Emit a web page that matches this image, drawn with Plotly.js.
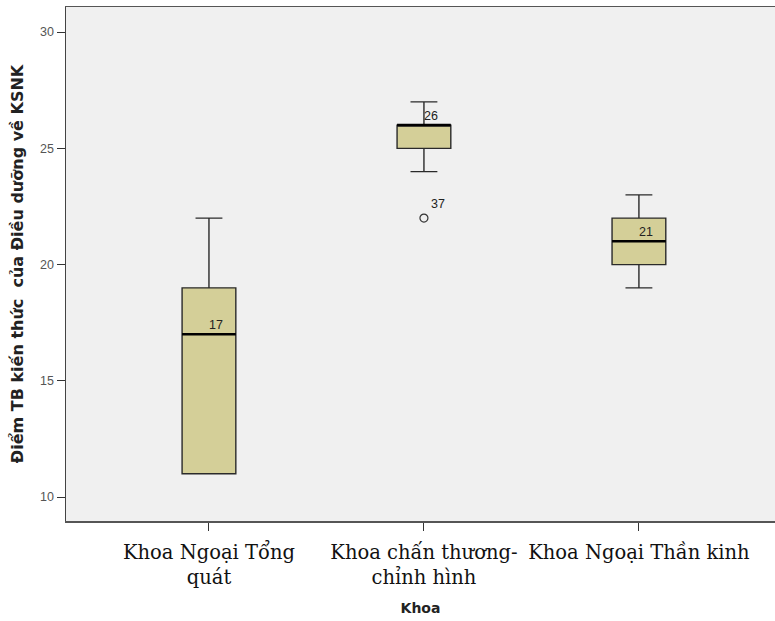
<!DOCTYPE html>
<html>
<head>
<meta charset="utf-8">
<script src="https://cdn.plot.ly/plotly-3.0.1.min.js"></script>
<style>
  html, body { margin: 0; padding: 0; background: #ffffff; }
  #chart { width: 775px; height: 621px; }
</style>
</head>
<body>
<div id="chart"></div>
<script>
// Departments (x categories) and their tick labels
const categories = ["Khoa Ngoại Tổng quát", "Khoa chấn thương-chỉnh hình", "Khoa Ngoại Thần kinh"];
const tickLabels = ["Khoa Ngoại Tổng<br>quát", "Khoa chấn thương-<br>chỉnh hình", "Khoa Ngoại Thần kinh"];

// Box summary statistics per department
const lowerWhisker = [11, 24, 19];
const q1Values     = [11, 25, 20];
const medianValues = [17, 26, 21];
const q3Values     = [19, 26, 22];
const upperWhisker = [22, 27, 23];

// Outlier case
const outlierCategory = ["Khoa chấn thương-chỉnh hình"];
const outlierValue = [22];
const outlierCase = ["37"];

const boxWidth = 0.25;
const boxFill = "#d4cf98";

const traces = [
  {
    type: "box",
    x: categories,
    q1: q1Values,
    median: medianValues,
    q3: q3Values,
    lowerfence: lowerWhisker,
    upperfence: upperWhisker,
    width: boxWidth,
    whiskerwidth: 0.5,
    fillcolor: boxFill,
    line: { color: "#2a2a2a", width: 1.4 },
    boxpoints: false,
    hoverinfo: "skip",
    showlegend: false
  },
  {
    type: "scatter",
    mode: "markers",
    x: outlierCategory,
    y: outlierValue,
    marker: { symbol: "circle-open", size: 8, color: "#333333", line: { width: 1.2 } },
    hoverinfo: "skip",
    showlegend: false
  }
];

// Heavier median bars drawn over each box
const shapes = medianValues.map((m, i) => ({
  type: "line", xref: "x", yref: "y",
  x0: i - boxWidth / 2, x1: i + boxWidth / 2, y0: m, y1: m,
  line: { color: "#000000", width: 2.5 }
}));

// Value labels next to the medians, plus the outlier case number
const labelFont = { family: "Liberation Sans, Arial, sans-serif", size: 12.5, color: "#222222" };
const annotations = medianValues.map((m, i) => ({
  x: i, y: m, xref: "x", yref: "y",
  text: String(m), showarrow: false, font: labelFont,
  xshift: 7, yshift: 9
})).concat(outlierValue.map((v, i) => ({
  x: outlierCategory[i], y: v, xref: "x", yref: "y",
  text: outlierCase[i], showarrow: false, font: labelFont,
  xshift: 14, yshift: 14
})));

const layout = {
  width: 775,
  height: 621,
  margin: { l: 66, r: 0, t: 7, b: 100 },
  paper_bgcolor: "#ffffff",
  plot_bgcolor: "#f0f0f0",
  showlegend: false,
  shapes: shapes,
  annotations: annotations,
  xaxis: {
    type: "category",
    range: [-0.665, 2.633],
    tickvals: categories,
    ticktext: tickLabels,
    ticks: "outside",
    ticklen: 8,
    tickcolor: "#333333",
    ticklabelstandoff: 5,
    tickfont: { family: "DejaVu Serif, serif", size: 19.5, color: "#111111" },
    showgrid: false,
    zeroline: false,
    showline: true,
    mirror: true,
    linecolor: "#555555",
    linewidth: 1.5,
    title: {
      text: "Khoa",
      font: { family: "DejaVu Sans, sans-serif", size: 14, color: "#222222", weight: "bold" },
      standoff: 15
    }
  },
  yaxis: {
    range: [8.97, 31.08],
    tickvals: [10, 15, 20, 25, 30],
    ticks: "outside",
    ticklen: 8,
    tickcolor: "#333333",
    tickfont: { family: "Liberation Sans, Arial, sans-serif", size: 12.5, color: "#555555" },
    showgrid: false,
    zeroline: false,
    showline: true,
    linecolor: "#444444",
    linewidth: 1.5,
    title: {
      text: "Điểm TB kiến thức  của Điều dưỡng về KSNK",
      font: { family: "DejaVu Sans, sans-serif", size: 16, color: "#222222", weight: "bold" },
      standoff: 12
    }
  }
};

Plotly.newPlot("chart", traces, layout, { staticPlot: true, displayModeBar: false });
</script>
</body>
</html>
